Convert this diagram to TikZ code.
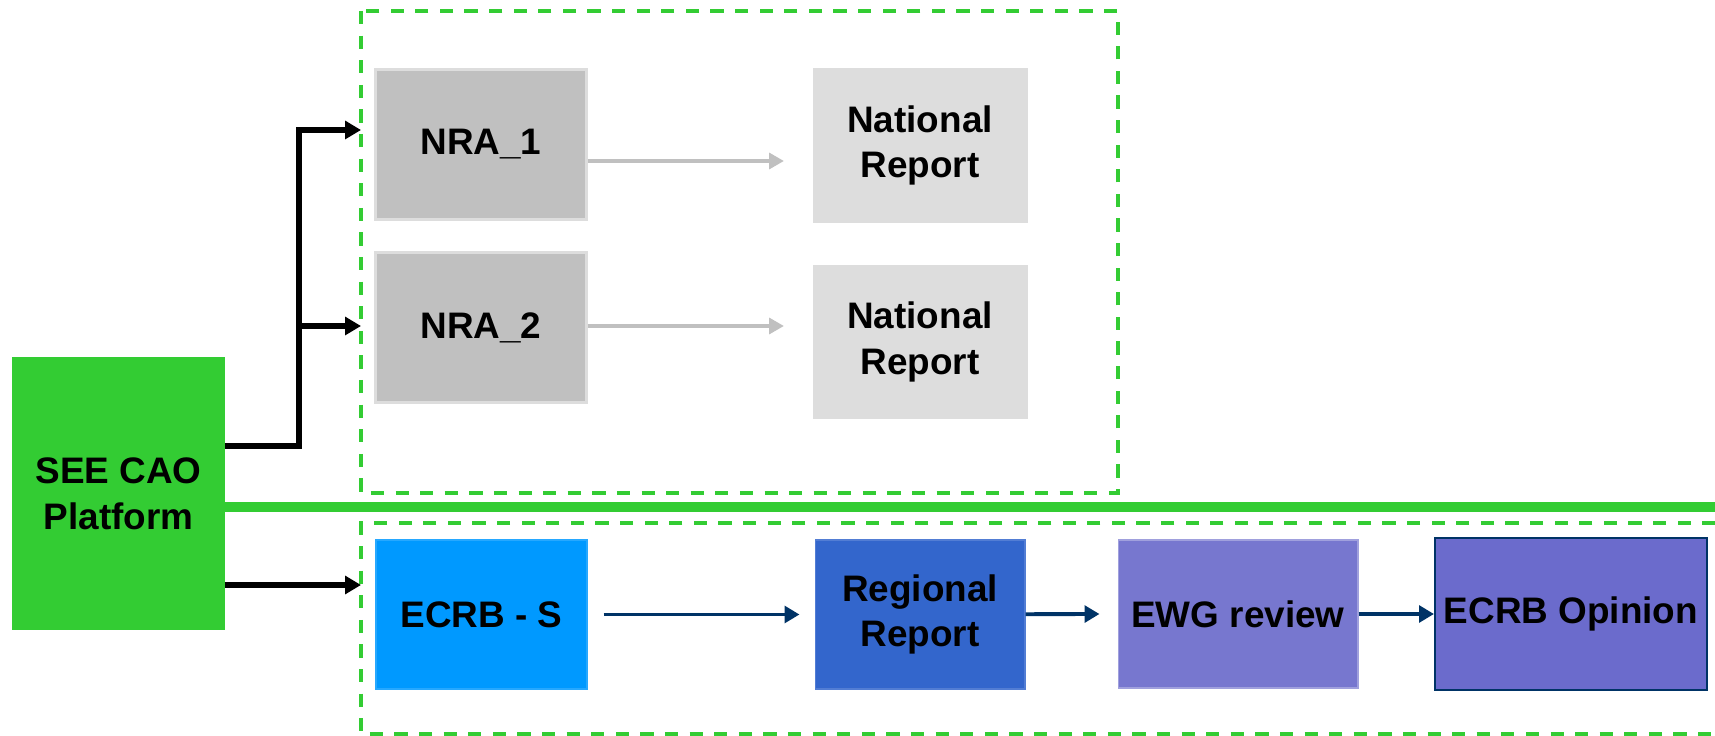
\documentclass[tikz,border=0pt]{standalone}
\usepackage{fontspec}
\setmainfont{Liberation Sans}
\usepackage{xcolor}
\usepackage{tikz}
\usetikzlibrary{positioning,arrows.meta,calc}

\definecolor{caogreen}{HTML}{33CC33}
\definecolor{nragray}{HTML}{C0C0C0}
\definecolor{nrlight}{HTML}{DDDDDD}
\definecolor{ecrbblue}{HTML}{0099FF}
\definecolor{regblue}{HTML}{3366CC}
\definecolor{ewgviolet}{HTML}{7777CF}
\definecolor{opviolet}{HTML}{6B6BCC}
\definecolor{navy}{HTML}{003366}

\begin{document}
\begin{tikzpicture}[
    x=0.02cm, y=-0.02cm,
    font=\fontsize{21}{26}\selectfont\bfseries,
    box/.style={
        draw=#1!85!white,
        line width=0.6pt,
        fill=#1,
        minimum width=4.22cm,
        minimum height=3.0cm,
        align=center,
        inner sep=0pt
    },
    group/.style={
        draw=caogreen,
        line width=2pt,
        dash pattern=on 7.5pt off 6.5pt
    },
    feed/.style={-{Triangle[length=9pt,width=10pt]}, line width=3pt, black},
    grayarr/.style={-{Triangle[length=8.5pt,width=9pt]}, line width=2.2pt, nragray},
    arr/.style={-{Triangle[length=8.5pt,width=9.5pt]}, line width=2.2pt, navy}
]
\useasboundingbox (0,0) rectangle (1715,736);

% dashed groups
\draw[group] (361,11) rectangle (1118,493);
\draw[group] (1740,523) -- (361,523) -- (361,734) -- (1740,734);

% source
\node[box=caogreen, draw=caogreen, minimum width=4.22cm, minimum height=5.42cm] (cao) at (118.5,493.5)
{SEE CAO\\Platform};

% national branch
\node[box=nragray, draw=nrlight, line width=1.2pt] (nra1) at (481,144.5) {NRA\_1};
\node[box=nragray, draw=nrlight, line width=1.2pt] (nra2) at (481,327.5) {NRA\_2};
\node[box=nrlight, draw=nrlight, minimum width=4.28cm, minimum height=3.06cm] (nr1) at (920,145.5) {National\\Report};
\node[box=nrlight, draw=nrlight, minimum width=4.28cm, minimum height=3.06cm] (nr2) at (920,342) {National\\Report};

% regional branch
\node[box=ecrbblue, minimum height=2.98cm] (ecrbs) at (481.5,614.5) {ECRB - S};
\node[box=regblue, minimum width=4.2cm, minimum height=2.98cm] (regional) at (920,614.5) {Regional\\Report};
\node[box=ewgviolet, draw=ewgviolet!70!white, minimum width=4.8cm, minimum height=2.96cm] (ewg) at (1238,614) {EWG review};
\node[box=opviolet, draw=navy, line width=1.2pt, minimum width=5.44cm, minimum height=3.04cm] (opinion) at (1571,614) {ECRB Opinion};

% split rail
\coordinate (railend) at (1715,507);
\draw[caogreen, line width=0.2cm] (cao.east |- railend) -- (railend);

% feeds from the platform
\coordinate (fork) at (299,446);
\coordinate (in1) at (361,130);
\coordinate (in2) at (361,326);
\coordinate (in3) at (361,585);
\draw[feed] (cao.east |- fork) -- (fork) |- (in1);
\draw[feed] (fork |- in2) -- (in2);
\draw[feed] (cao.east |- in3) -- (in3);

\draw[grayarr] (nra1.east |- 0,161) -- (784,161);
\draw[grayarr] (nra2.east |- 0,326) -- (784,326);

\draw[arr] ($(ecrbs.east)+(16,0)$) -- ($(regional.west)+(-15,0)$);
\draw[arr] (regional) -- ($(ewg.west)+(-18,0)$);
\draw[arr] (ewg) -- (opinion);

\end{tikzpicture}
\end{document}
